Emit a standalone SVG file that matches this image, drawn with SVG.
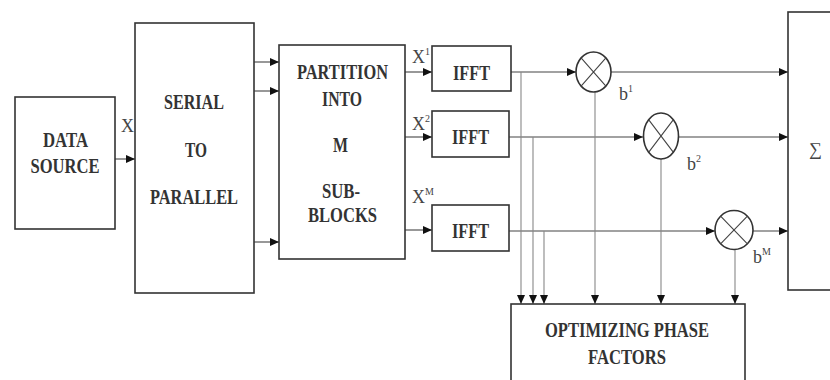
<svg xmlns="http://www.w3.org/2000/svg" width="830" height="380" viewBox="0 0 830 380">
<style>
.box{fill:#fff;stroke:#333;stroke-width:1.6}
.ln{fill:none;stroke:#444;stroke-width:1.1}
.vl{fill:none;stroke:#888;stroke-width:1.1}
.mul{fill:#fff;stroke:#333;stroke-width:1.6}
.t{font-family:"Liberation Serif","DejaVu Serif","Times New Roman",serif;font-weight:bold;font-size:20px;fill:#333;text-anchor:middle}
.l{font-family:"Liberation Serif","DejaVu Serif","Times New Roman",serif;font-size:18px;fill:#444}
.s{font-size:10px}
</style>
<defs>
<marker id="ah" markerWidth="10" markerHeight="10" refX="9" refY="5" orient="auto" markerUnits="userSpaceOnUse">
<path d="M0,1 L9,5 L0,9 Z" fill="#111"/>
</marker>
</defs>
<rect width="830" height="380" fill="#fff"/>

<g id="connectors">
<path class="ln" d="M115,159 H135" marker-end="url(#ah)"/>
<path class="ln" d="M254,62 H279" marker-end="url(#ah)"/>
<path class="ln" d="M254,91 H279" marker-end="url(#ah)"/>
<path class="ln" d="M254,242 H279" marker-end="url(#ah)"/>
<path class="ln" d="M405,72 H432" marker-end="url(#ah)"/>
<path class="ln" d="M405,137 H432" marker-end="url(#ah)"/>
<path class="ln" d="M405,230 H432" marker-end="url(#ah)"/>
<path class="ln" d="M511,72 H576" marker-end="url(#ah)"/>
<path class="ln" d="M611,72 H788" marker-end="url(#ah)"/>
<path class="ln" d="M509,137 H643" marker-end="url(#ah)"/>
<path class="ln" d="M679,137 H788" marker-end="url(#ah)"/>
<path class="ln" d="M509,231 H715" marker-end="url(#ah)"/>
<path class="ln" d="M753,231 H788" marker-end="url(#ah)"/>
<path class="vl" d="M521,72 V304" marker-end="url(#ah)"/>
<path class="vl" d="M533,137 V304" marker-end="url(#ah)"/>
<path class="vl" d="M544,231 V304" marker-end="url(#ah)"/>
<path class="vl" d="M595,92 V304" marker-end="url(#ah)"/>
<path class="vl" d="M661,159 V304" marker-end="url(#ah)"/>
<path class="vl" d="M735,250 V304" marker-end="url(#ah)"/>
</g>

<g id="data-source">
<rect class="box" x="15" y="97" width="100" height="132"/>
<text class="t" x="65.5" y="147" textLength="45" lengthAdjust="spacingAndGlyphs">DATA</text>
<text class="t" x="65" y="173" textLength="69" lengthAdjust="spacingAndGlyphs">SOURCE</text>
</g>
<text class="l" x="121" y="132">X</text>

<g id="serial-to-parallel">
<rect class="box" x="135" y="23" width="119" height="270"/>
<text class="t" x="194" y="109" textLength="60" lengthAdjust="spacingAndGlyphs">SERIAL</text>
<text class="t" x="196" y="157" textLength="22" lengthAdjust="spacingAndGlyphs">TO</text>
<text class="t" x="194" y="204" textLength="88" lengthAdjust="spacingAndGlyphs">PARALLEL</text>
</g>

<g id="partition">
<rect class="box" x="279" y="45" width="126" height="214"/>
<text class="t" x="342.5" y="79" textLength="91" lengthAdjust="spacingAndGlyphs">PARTITION</text>
<text class="t" x="342" y="106" textLength="40" lengthAdjust="spacingAndGlyphs">INTO</text>
<text class="t" x="340.5" y="152" textLength="15" lengthAdjust="spacingAndGlyphs">M</text>
<text class="t" x="341" y="198" textLength="38" lengthAdjust="spacingAndGlyphs">SUB-</text>
<text class="t" x="342.5" y="222" textLength="69" lengthAdjust="spacingAndGlyphs">BLOCKS</text>
</g>

<text class="l" x="412" y="63">X<tspan class="s" dy="-8">1</tspan></text>
<text class="l" x="412" y="130">X<tspan class="s" dy="-8">2</tspan></text>
<text class="l" x="412" y="203">X<tspan class="s" dy="-8">M</tspan></text>

<g id="ifft1">
<rect class="box" x="432" y="46" width="79" height="45"/>
<text class="t" x="471.5" y="80" textLength="37" lengthAdjust="spacingAndGlyphs">IFFT</text>
</g>
<g id="ifft2">
<rect class="box" x="432" y="111" width="77" height="46"/>
<text class="t" x="470.5" y="144" textLength="37" lengthAdjust="spacingAndGlyphs">IFFT</text>
</g>
<g id="ifft3">
<rect class="box" x="432" y="205" width="77" height="46"/>
<text class="t" x="470.5" y="238" textLength="37" lengthAdjust="spacingAndGlyphs">IFFT</text>
</g>

<g id="mult1">
<ellipse class="mul" cx="593.5" cy="72" rx="17.5" ry="20"/>
<path class="ln" stroke-width="1.4" d="M581.1,57.9 L605.9,86.1 M605.9,57.9 L581.1,86.1"/>
</g>
<text class="l" x="619" y="100">b<tspan class="s" dy="-8">1</tspan></text>

<g id="mult2">
<ellipse class="mul" cx="661" cy="136" rx="17.5" ry="23"/>
<path class="ln" stroke-width="1.4" d="M648.6,119.7 L673.4,152.3 M673.4,119.7 L648.6,152.3"/>
</g>
<text class="l" x="687" y="170">b<tspan class="s" dy="-8">2</tspan></text>

<g id="mult3">
<ellipse class="mul" cx="734" cy="230" rx="19" ry="19.5"/>
<path class="ln" stroke-width="1.4" d="M720.6,216.2 L747.4,243.8 M747.4,216.2 L720.6,243.8"/>
</g>
<text class="l" x="753" y="263">b<tspan class="s" dy="-8">M</tspan></text>

<g id="sum">
<rect class="box" x="788" y="12" width="60" height="278"/>
<text class="l" x="809" y="155" font-size="20">∑</text>
</g>

<g id="optimizing">
<rect class="box" x="511" y="304" width="234" height="80"/>
<text class="t" x="627" y="337" textLength="164" lengthAdjust="spacingAndGlyphs">OPTIMIZING PHASE</text>
<text class="t" x="627" y="364" textLength="78" lengthAdjust="spacingAndGlyphs">FACTORS</text>
</g>
</svg>
